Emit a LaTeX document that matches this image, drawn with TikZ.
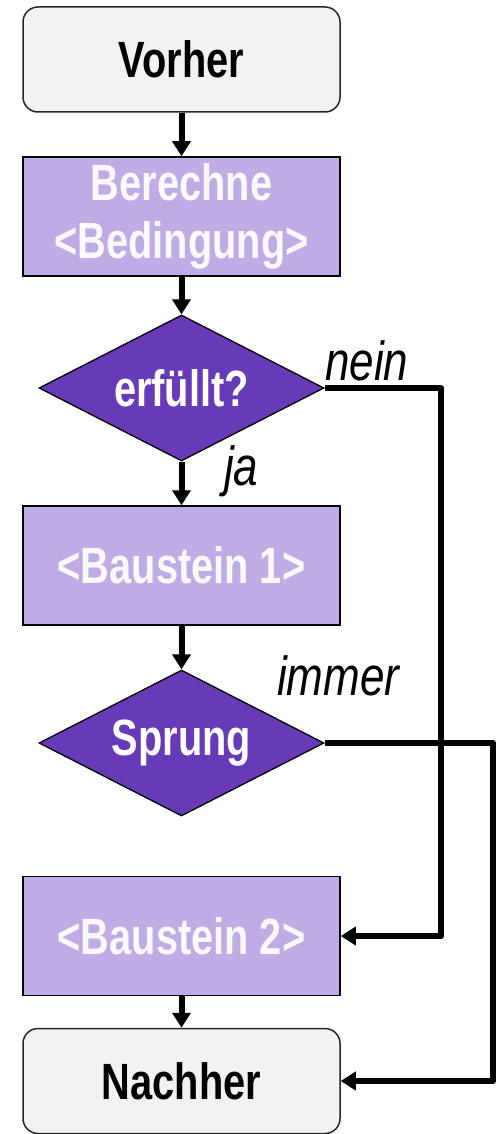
\documentclass[tikz,border=0pt]{standalone}
\usepackage{fontspec}
\setmainfont{Liberation Sans}[FakeStretch=0.78]
\newfontfamily\labelfont{Liberation Sans}[FakeStretch=0.8]
\usetikzlibrary{shapes.geometric,arrows.meta}
\definecolor{startgray}{HTML}{F2F2F2}
\definecolor{blocklav}{HTML}{C0ACE4}
\definecolor{decpurple}{HTML}{673AB7}
\definecolor{blocktext}{HTML}{FBF9FE}
\tikzset{
  x=1pt, y=-1pt,
  terminal/.style={draw=black!85, line width=1.5pt, fill=startgray, rounded corners=15pt,
    minimum width=317pt, minimum height=105pt, inner sep=0pt,
    font=\fontsize{51}{58}\selectfont\bfseries, text=black},
  block/.style={draw=black, line width=1.5pt, fill=blocklav,
    minimum width=317pt, minimum height=119pt, inner sep=0pt, align=center,
    font=\fontsize{51}{58}\selectfont\bfseries, text=blocktext},
  decision/.style={draw=black, line width=1.3pt, fill=decpurple, diamond, aspect=2,
    minimum width=285pt, minimum height=146pt, inner sep=0pt,
    font=\fontsize{51}{58}\selectfont\bfseries, text=white},
  flow/.style={line width=6pt, -{Triangle[length=15pt,width=18pt]}},
  branch/.style={font=\labelfont\fontsize{55}{62}\selectfont\itshape, inner sep=0pt, anchor=base west}
}
\begin{document}
\begin{tikzpicture}
\useasboundingbox (0,0) rectangle (502,1134);
% main column
\node[terminal] (vorher) at (181.5,59.5) {Vorher};
\node[block] (bed) at (181.5,216.5) {Berechne\\\textless Bedingung\textgreater};
\node[decision] (erf) at (181.5,388) {erfüllt?};
\node[block] (b1) at (181.5,565.5) {\textless Baustein 1\textgreater};
\node[decision] (spr) at (181.5,743) {Sprung};
\node[block] (b2) at (181.5,936) {\textless Baustein 2\textgreater};
\node[terminal] (nachher) at (181.5,1081) {Nachher};
% branch labels
\node[branch] (lnein) at (325,380) {nein};
\node[branch] (lja) at (224,485) {ja};
\node[branch] (limmer) at (277,695) {immer};
% bends of the bypass lines
\coordinate (neinbend) at (441,388);
\coordinate (immerbend) at (493,743);
% straight flow
\draw[flow] (vorher) -- (bed);
\draw[flow] (bed) -- (erf);
\draw[flow] (erf) -- (b1);
\draw[flow] (b1) -- (spr);
\draw[flow] (b2) -- (nachher);
% bypass lines
\draw[flow, line join=round] (erf.east) -- (neinbend) |- (b2.east);
\draw[flow, line join=round] (spr.east) -- (immerbend) |- (nachher.east);
\end{tikzpicture}
\end{document}
